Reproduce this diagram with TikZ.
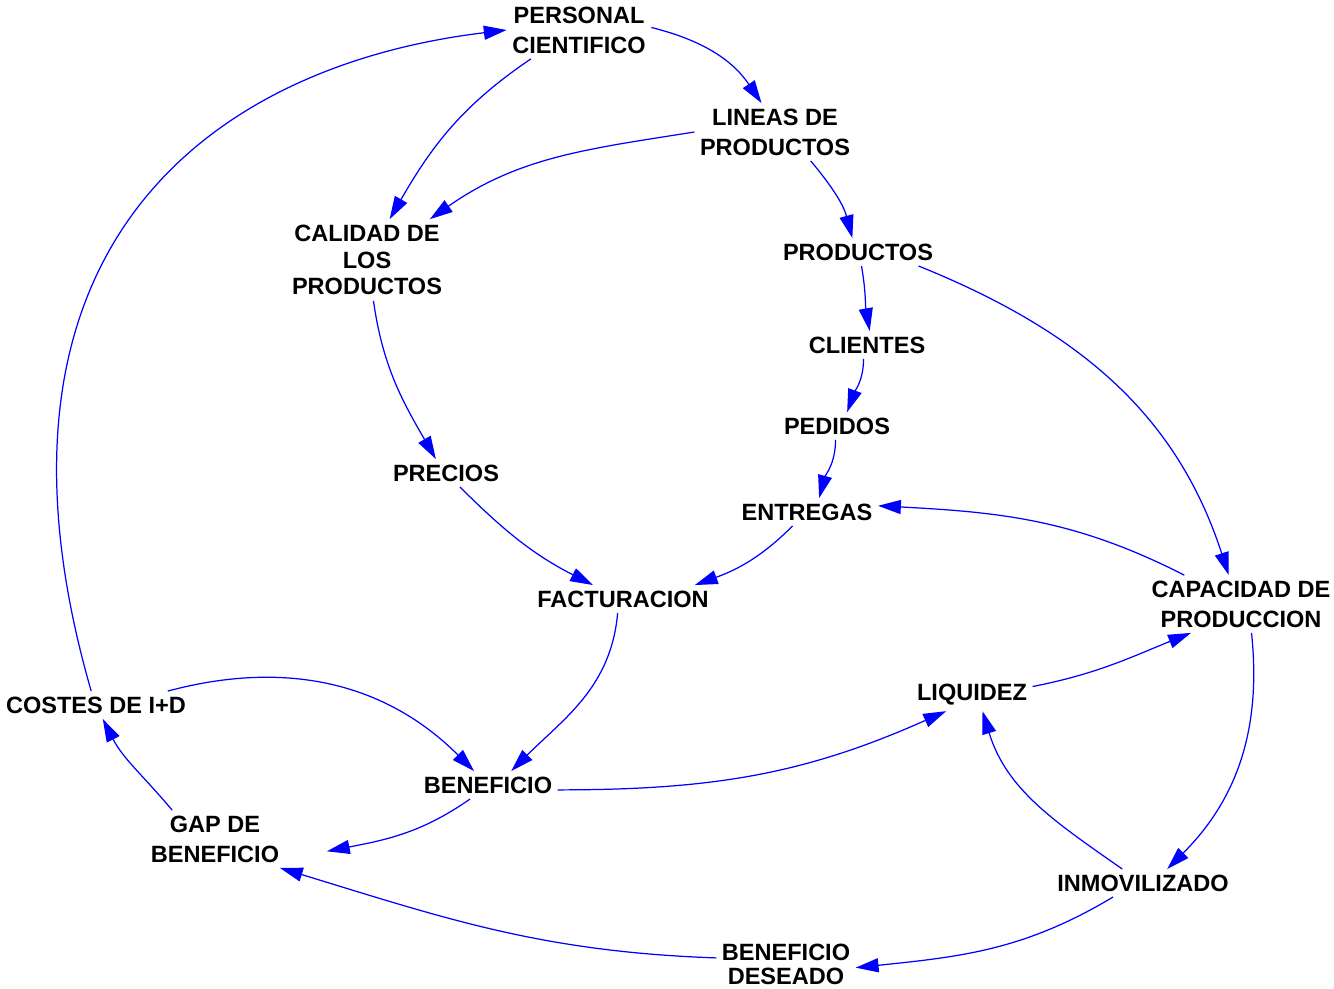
\documentclass[tikz,border=0pt]{standalone}
\usepackage{fontspec}
\setmainfont{Liberation Sans}
\usetikzlibrary{arrows.meta}

\begin{document}
\begin{tikzpicture}[
    x=0.02cm, y=0.02cm,
    % Define styles for the variables and the links
    var/.style={
        align=center,
        inner sep=3pt,
        font=\bfseries\fontsize{13.4}{17}\selectfont
    },
    line/.style={
        draw,
        blue,
        line width=0.7pt,
        -{Triangle[length=13pt,width=8pt]}
    }
]
\useasboundingbox (0,0) rectangle (1334,-988);

% Place the variables
\node[var] (pers) at (579,-30) {PERSONAL\\CIENTIFICO};
\node[var] (lin) at (775,-132) {LINEAS DE\\PRODUCTOS};
\node[var] (cal) at (367,-260) {CALIDAD DE\\[-1.7pt]LOS\\[-1.7pt]PRODUCTOS};
\node[var] (prod) at (858,-252) {PRODUCTOS};
\node[var] (cli) at (867,-345) {CLIENTES};
\node[var] (ped) at (837,-426) {PEDIDOS};
\node[var] (pre) at (446,-473) {PRECIOS};
\node[var] (ent) at (807,-512) {ENTREGAS};
\node[var] (fac) at (623,-599) {FACTURACION};
\node[var] (cap) at (1241,-604) {CAPACIDAD DE\\PRODUCCION};
\node[var] (liq) at (972,-695) {LIQUIDEZ};
\node[var] (cos) at (96,-705) {COSTES DE I+D};
\node[var] (ben) at (488,-785) {BENEFICIO};
\node[var] (gap) at (215,-839) {GAP DE\\BENEFICIO};
\node[var] (inm) at (1143,-883) {INMOVILIZADO};
\node[var] (des) at (786,-964) {BENEFICIO\\[-3.4pt]DESEADO};

% Draw the connections
% upper chain
\draw[line] (pers.2) to[out=-14,in=124] (lin.115);
\draw[line] (pers.211) to[out=214,in=60] (cal.61);
\draw[line] (lin.180) to[out=189,in=35] (cal.33);
\draw[line] (lin.-39) to[out=-50,in=105] (prod.112);
\draw[line] (prod.-76) to[out=-80,in=100] (cli.79);
\draw[line] (cli.-104) to[out=-90,in=70] (ped.54);
\draw[line] (ped.-96) to[out=-90,in=75] (ent.49);
\draw[line] (prod.-13) to[out=-22,in=108] (cap.113);

% prices and sales
\draw[line] (cal.-81) to[out=-82,in=120] (pre.126);
\draw[line] (pre.-45) to[out=-45,in=153] (fac.155);
\draw[line] (ent.224) to[out=225,in=20] (fac.11);
\draw[line] (cap.153) to[out=153,in=-3] (ent.5);
\draw[line] (fac.-111) to[out=-95,in=45] (ben.31);

% profit loop
\draw[line] (cos.11.5) to[out=15,in=135] (ben.135);
\draw[line] (cos.109) .. controls (-36,-250) and (208,-66) .. (pers.180);
\draw[line] (gap.146) to[out=130,in=-63] (cos.-64);
\draw[line] (ben.218) to[out=215,in=11] ([xshift=24pt]gap.-10);
\draw[line] (ben.-4) to[out=0,in=204] (liq.212);
\draw[line] (liq.8) to[out=11,in=202] (cap.210);
\draw[line] (cap.-70) to[out=-84,in=45] (inm.30);
\draw[line] (inm.146) to[out=145,in=-73] (liq.-57);
\draw[line] (inm.205) to[out=211,in=6] (des.-3);
\draw[line] (des.175) to[out=178,in=-17] (gap.-24);

\end{tikzpicture}
\end{document}
